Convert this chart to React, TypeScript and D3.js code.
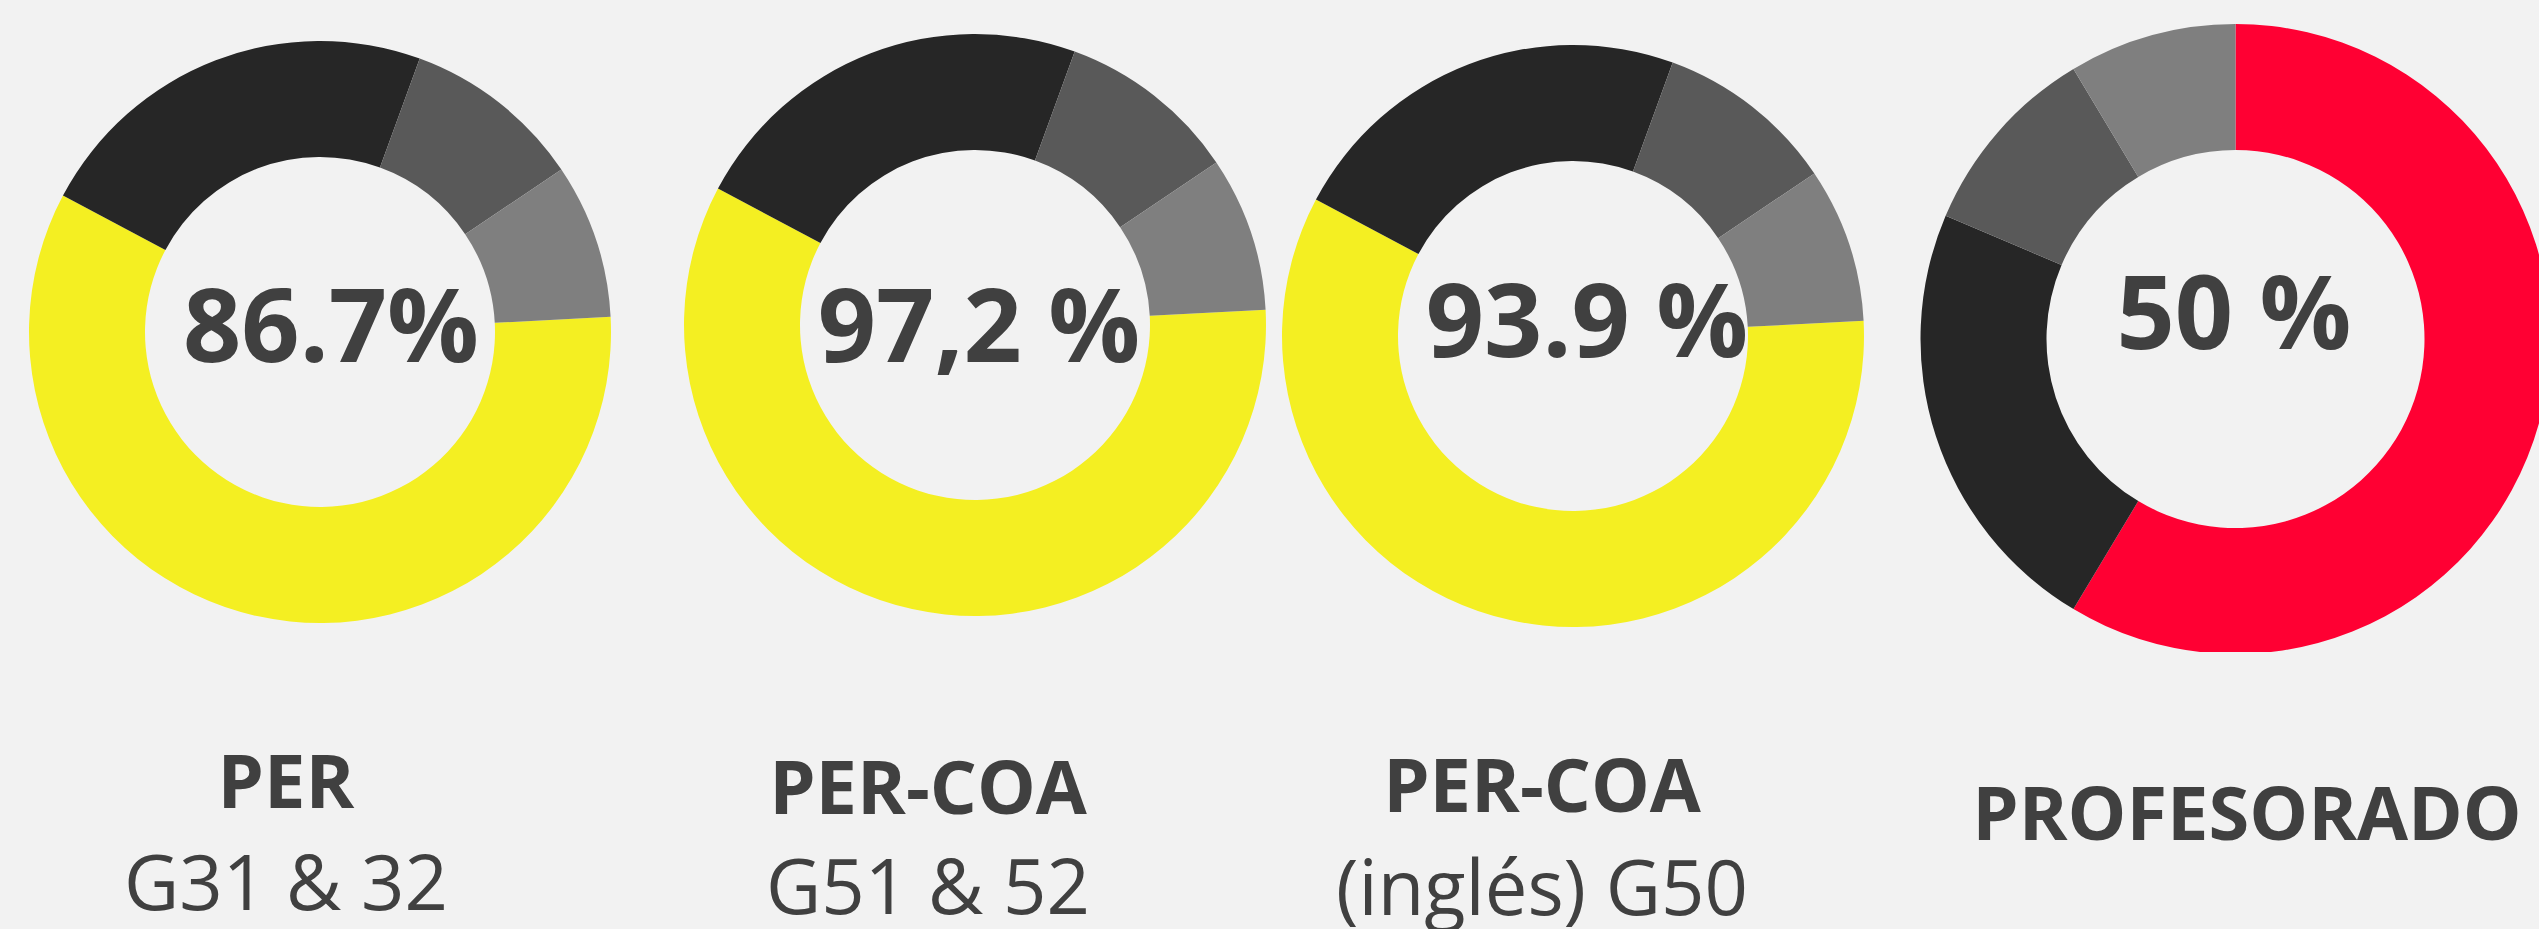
import React, { useEffect } from 'react';
import * as d3 from 'd3';

// ---- data ----
const titles = ['PER', 'PER-COA', 'PER-COA', 'PROFESORADO'];
const subtitles = ['G31 & 32', 'G51 & 52', '(inglés) G50', ''];
const centerLabels = ['86.7%', '97,2 %', '93.9 %', '50 %'];
const ringValues = [58.6, 22.8, 10.0, 8.6];
const highlightColors = ['#f4ef22', '#f4ef22', '#f4ef22', '#ff0033'];
const restColors = ['#262626', '#595959', '#7f7f7f'];

// ---- layout ----
const W = 2539;
const H = 929;
const layout = [
  { cx: 320, cy: 332, R: 291, r: 175, start: 87, valueX: 331, valueY: 362, titleX: 286, titleY: 808, subY: 910 },
  { cx: 975, cy: 325, R: 291, r: 175, start: 87, valueX: 979, valueY: 362, titleX: 928, titleY: 814, subY: 914 },
  { cx: 1573, cy: 336, R: 291, r: 175, start: 87, valueX: 1587, valueY: 357, titleX: 1542, titleY: 812, subY: 915 },
  { cx: 2235.5, cy: 339, R: 315, r: 189, start: 0, valueX: 2234, valueY: 349, titleX: 2247, titleY: 840, subY: 940 },
];

export default function App() {
  useEffect(() => {
    document.body.style.margin = '0';
    document.body.style.overflow = 'hidden';
  }, []);

  const textColor = '#404040';
  const font = "'Open Sans', sans-serif";

  return (
    <svg width={W} height={H} style={{ position: 'absolute', left: 0, top: 0, display: 'block' }}>
      <defs>
        <clipPath id="clip4" clipPathUnits="userSpaceOnUse">
          <rect x={1900} y={0} width={639} height={652} />
        </clipPath>
      </defs>
      <rect x={0} y={0} width={W} height={H} fill="#f2f2f2" />
      {layout.map((L, i) => {
        const startRad = (L.start * Math.PI) / 180;
        const pie = d3
          .pie<number>()
          .sort(null)
          .value((d) => d)
          .startAngle(startRad)
          .endAngle(startRad + 2 * Math.PI);
        const arcs = pie(ringValues);
        const arc = d3.arc<d3.PieArcDatum<number>>().innerRadius(L.r).outerRadius(L.R);
        const colors = [highlightColors[i], ...restColors];
        return (
          <g key={i}>
            <g clipPath={i === 3 ? 'url(#clip4)' : undefined}>
              <g transform={`translate(${L.cx},${L.cy})`}>
                {arcs.map((a, j) => (
                  <path key={j} d={arc(a) || ''} fill={colors[j]} />
                ))}
              </g>
            </g>
            <text
              x={L.valueX}
              y={L.valueY}
              textAnchor="middle"
              fontFamily={font}
              fontWeight={700}
              fontSize={102}
              fill={textColor}
            >
              {centerLabels[i]}
            </text>
            <text
              x={L.titleX}
              y={L.titleY}
              textAnchor="middle"
              fontFamily={font}
              fontWeight={700}
              fontSize={74}
              fill={textColor}
            >
              {titles[i]}
            </text>
            {subtitles[i] && (
              <text
                x={L.titleX}
                y={L.subY}
                textAnchor="middle"
                fontFamily={font}
                fontWeight={400}
                fontSize={76}
                fill={textColor}
              >
                {subtitles[i]}
              </text>
            )}
          </g>
        );
      })}
    </svg>
  );
}
